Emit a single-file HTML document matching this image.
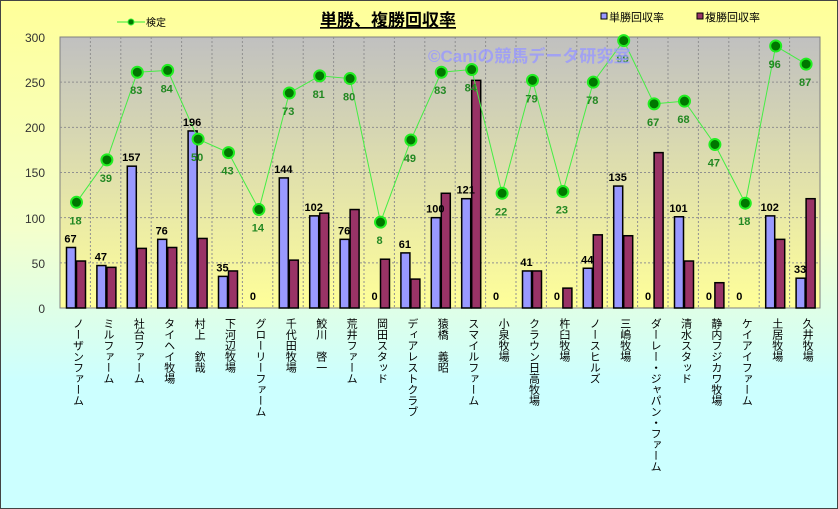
<!DOCTYPE html>
<html><head><meta charset="utf-8"><style>
body{margin:0;width:838px;height:509px;overflow:hidden;font-family:"Liberation Sans","Noto Sans CJK JP",sans-serif}
.wrap{position:relative;width:836px;height:507px;border:1px solid #444;background:linear-gradient(#ffff99 0%,#f4ffcc 45%,#ccffff 75%,#ccffff 100%)}
.xl{position:absolute;top:317px;writing-mode:vertical-rl;font-size:11px;color:#000;line-height:11px;white-space:nowrap}
</style></head><body><div class="wrap">
<svg width="838" height="509" style="position:absolute;left:-1px;top:-1px">
<defs><linearGradient id="pg" x1="0" y1="0" x2="0" y2="1"><stop offset="0" stop-color="#c0c0c0"/><stop offset="1" stop-color="#ffff99"/></linearGradient></defs>
<rect x="60" y="37" width="760" height="271" fill="url(#pg)" stroke="#808080"/>
<g id="grid" stroke="#909090" stroke-dasharray="2,2" stroke-width="1"></g>
<g id="bars"></g>
<g id="line"></g>
<g id="lab"></g>
<g font-size="12" fill="#333" text-anchor="end">
<text x="45" y="42">300</text><text x="45" y="87">250</text><text x="45" y="132">200</text><text x="45" y="177">150</text><text x="45" y="223">100</text><text x="45" y="268">50</text><text x="45" y="313">0</text></g>
<text x="320" y="26" font-size="17" font-weight="bold" text-decoration="underline" fill="#000">単勝、複勝回収率</text>
<text x="428" y="62" font-size="17" font-weight="bold" fill="#9999ff" fill-opacity="0.8">©Caniの競馬データ研究室</text>
<line x1="117" y1="22" x2="145" y2="22" stroke="#33ee33"/><circle cx="131" cy="22" r="3" fill="#007700" stroke="#33ee33"/>
<text x="146" y="26" font-size="10" fill="#000">検定</text>
<rect x="601" y="13" width="6" height="6" fill="#9999ff" stroke="#000"/><text x="609" y="21" font-size="11">単勝回収率</text>
<rect x="697" y="13" width="6" height="6" fill="#993366" stroke="#000"/><text x="705" y="21" font-size="11">複勝回収率</text>
</svg>
<div id="xls"></div>
</div>
<script>
var d=[["ノーザンファーム",67,52,117,18],["ミルファーム",47,45,164,39],["社台ファーム",157,66,261,83],["タイヘイ牧場",76,67,263,84],["村上　欽哉",196,77,187,50],["下河辺牧場",35,41,172,43],["グローリーファーム",0,0,109,14],["千代田牧場",144,53,238,73],["鮫川　啓一",102,105,257,81],["荒井ファーム",76,109,254,80],["岡田スタッド",0,54,95,8],["ディアレストクラブ",61,32,186,49],["猿橋　義昭",100,127,261,83],["スマイルファーム",121,252,264,84],["小泉牧場",0,0,127,22],["クラウン日高牧場",41,41,252,79],["杵臼牧場",0,22,129,23],["ノースヒルズ",44,81,250,78],["三嶋牧場",135,80,296,99],["ダーレー・ジャパン・ファーム",0,172,226,67],["清水スタッド",101,52,229,68],["静内フジカワ牧場",0,28,181,47],["ケイアイファーム",0,0,116,18],["土居牧場",102,76,290,96],["久井牧場",33,121,270,87]];
var W=30.4,X0=60,Y0=308,S=271/300,ns="http://www.w3.org/2000/svg";
function el(p,t,a,txt){var e=document.createElementNS(ns,t);for(var k in a)e.setAttribute(k,a[k]);if(txt!=null)e.textContent=txt;document.getElementById(p).appendChild(e);}
for(var i=1;i<25;i++)el("grid","line",{x1:X0+W*i,y1:37,x2:X0+W*i,y2:308});
for(var v=50;v<300;v+=50)el("grid","line",{x1:60,y1:Y0-v*S,x2:820,y2:Y0-v*S});
var pts=[],h="";
d.forEach(function(r,i){var c=X0+W*i+15.5;
 if(r[1]>0)el("bars","rect",{x:c-9,y:Y0-r[1]*S,width:9,height:r[1]*S,fill:"#9999ff",stroke:"#000","stroke-width":1.5});
 if(r[2]>0)el("bars","rect",{x:c+1,y:Y0-r[2]*S,width:9,height:r[2]*S,fill:"#993366",stroke:"#000","stroke-width":1.5});
 el("lab","text",{x:c-5,y:(r[1]>0?Y0-r[1]*S-5:300),"font-size":11,"font-weight":"bold","text-anchor":"middle"},r[1]);
 pts.push((c+1)+","+(Y0-r[3]*S));
 el("lab","text",{x:c,y:Y0-r[3]*S+22,"font-size":11,"font-weight":"bold","text-anchor":"middle",fill:"#228822"},r[4]);
 h+='<div class="xl" style="left:'+(c-5)+'px">'+r[0]+'</div>';
});
el("line","polyline",{points:pts.join(" "),fill:"none",stroke:"#44ee44","stroke-width":1});
pts.forEach(function(p){var a=p.split(",");el("line","circle",{cx:a[0],cy:a[1],r:5.5,fill:"#007700",stroke:"#22ee22","stroke-width":2});});
document.getElementById("xls").innerHTML=h;
</script>
</body></html>
